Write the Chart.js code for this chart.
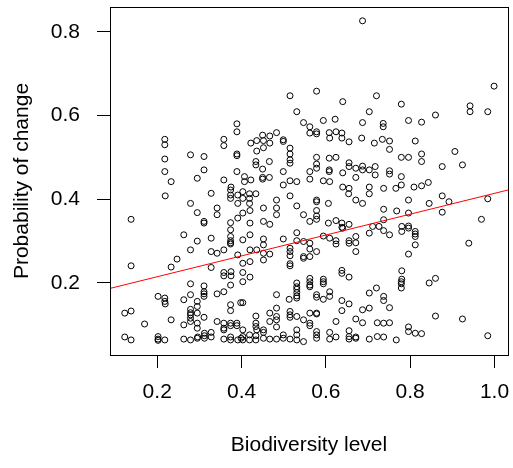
<!DOCTYPE html>
<html>
<head>
<meta charset="utf-8">
<script src="https://cdn.jsdelivr.net/npm/chart.js@4.4.1/dist/chart.umd.min.js"></script>
<style>
  html, body { margin: 0; padding: 0; background: #fff; }
  #wrap { width: 513px; height: 468px; }
</style>
</head>
<body>
<div id="wrap"><canvas id="scatterChart"></canvas></div>
<script>
// Biodiversity level (x) and probability of change (y)
const bioLevel = [
  0.687, 0.515, 0.578, 0.640, 0.720, 0.999,
  0.389, 0.389, 0.218, 0.218, 0.358, 0.358, 0.218, 0.279, 0.311, 0.389, 0.389, 0.218, 0.233, 0.311, 0.295, 0.389, 0.358, 0.375,
  0.531, 0.703, 0.547, 0.562, 0.594, 0.622, 0.687, 0.578, 0.578, 0.562, 0.608, 0.609, 0.624, 0.638, 0.638, 0.655, 0.685, 0.715,
  0.422, 0.436, 0.450, 0.452, 0.467, 0.483, 0.436, 0.452, 0.467, 0.499, 0.499, 0.515, 0.515, 0.515, 0.515, 0.434, 0.434, 0.466,
  0.450, 0.499, 0.450, 0.450, 0.466, 0.407, 0.422, 0.407, 0.499, 0.515, 0.531, 0.562, 0.562, 0.578, 0.578, 0.578, 0.608, 0.624,
  0.608, 0.608, 0.594, 0.609, 0.640, 0.655, 0.655, 0.671, 0.687, 0.687, 0.671, 0.703, 0.717, 0.717, 0.640, 0.655, 0.703,
  0.779, 0.942, 0.942, 0.984, 0.860, 0.796, 0.827, 0.736, 0.736, 0.734, 0.751, 0.751, 0.812, 0.779, 0.796, 0.827, 0.827, 0.906,
  0.876, 0.924, 0.751, 0.751, 0.779, 0.779, 0.766, 0.809, 0.827, 0.843, 0.737,
  0.219, 0.328, 0.374, 0.374, 0.391, 0.374, 0.391, 0.279, 0.295, 0.342, 0.342, 0.138, 0.311, 0.311, 0.374, 0.391, 0.374, 0.263,
  0.295, 0.328, 0.374, 0.374, 0.374, 0.374, 0.279, 0.328, 0.342, 0.358, 0.391, 0.138, 0.247, 0.233, 0.328, 0.358, 0.358, 0.375, 0.375,
  0.403, 0.419, 0.434, 0.419, 0.403, 0.419, 0.515, 0.578, 0.578, 0.483, 0.452, 0.420, 0.403, 0.483, 0.483, 0.531, 0.547, 0.578,
  0.578, 0.606, 0.654, 0.671, 0.687, 0.703, 0.420, 0.452, 0.467, 0.562, 0.578, 0.606, 0.624, 0.638, 0.638, 0.640, 0.655, 0.420,
  0.403, 0.452, 0.452, 0.499, 0.531, 0.531, 0.547, 0.562, 0.594, 0.609, 0.624, 0.624, 0.655, 0.655, 0.671, 0.671, 0.671, 0.703,
  0.711, 0.420, 0.436, 0.452, 0.452, 0.467, 0.403, 0.420, 0.515, 0.515, 0.515, 0.562, 0.578, 0.562, 0.547, 0.547, 0.515, 0.515,
  0.403, 0.420, 0.638, 0.638, 0.655, 0.562, 0.594,
  0.876, 0.892, 0.796, 0.845, 0.984, 0.737, 0.768, 0.796, 0.876, 0.737, 0.969, 0.726, 0.737, 0.751, 0.780, 0.780, 0.796, 0.796,
  0.812, 0.812, 0.812, 0.812, 0.939, 0.796, 0.780, 0.780, 0.860,
  0.279, 0.311, 0.311, 0.311, 0.311, 0.374, 0.342, 0.358, 0.202, 0.218, 0.218, 0.219, 0.263, 0.279, 0.295, 0.295, 0.123, 0.138,
  0.279, 0.279, 0.279, 0.279, 0.295, 0.311, 0.374, 0.374, 0.398, 0.170, 0.233, 0.263, 0.279, 0.295, 0.295, 0.342, 0.358, 0.358,
  0.358, 0.374, 0.374, 0.389, 0.389, 0.312, 0.312, 0.328, 0.296, 0.123, 0.138, 0.202, 0.202, 0.202, 0.218, 0.263, 0.279, 0.295,
  0.312, 0.328, 0.358, 0.374, 0.374, 0.391, 0.399,
  0.403, 0.531, 0.531, 0.531, 0.531, 0.531, 0.531, 0.562, 0.562, 0.562, 0.594, 0.594, 0.483, 0.403, 0.513, 0.578, 0.578, 0.594,
  0.609, 0.609, 0.638, 0.655, 0.638, 0.703, 0.687, 0.703, 0.483, 0.467, 0.483, 0.483, 0.467, 0.434, 0.515, 0.515, 0.515, 0.531,
  0.547, 0.562, 0.578, 0.578, 0.562, 0.562, 0.624, 0.671, 0.687, 0.434, 0.434, 0.436, 0.452, 0.452, 0.483, 0.403, 0.403, 0.403,
  0.419, 0.419, 0.434, 0.434, 0.452, 0.467, 0.483, 0.499, 0.499, 0.515, 0.531, 0.531, 0.531, 0.547, 0.578, 0.578, 0.578, 0.609,
  0.609, 0.624, 0.655, 0.655, 0.655, 0.671, 0.671, 0.703,
  0.779, 0.779, 0.779, 0.845, 0.720, 0.737, 0.737, 0.751, 0.860, 0.924, 0.722, 0.737, 0.751, 0.796, 0.796, 0.812, 0.827, 0.722,
  0.737, 0.767, 0.984
];
const probChange = [
  0.826, 0.647, 0.658, 0.633, 0.647, 0.670,
  0.580, 0.561, 0.543, 0.530, 0.543, 0.528, 0.496, 0.506, 0.502, 0.508, 0.504, 0.466, 0.442, 0.470, 0.450, 0.466, 0.446, 0.429,
  0.609, 0.609, 0.583, 0.573, 0.588, 0.591, 0.583, 0.561, 0.556, 0.558, 0.559, 0.546, 0.561, 0.558, 0.546, 0.537, 0.546, 0.534,
  0.534, 0.540, 0.553, 0.540, 0.551, 0.559, 0.515, 0.523, 0.534, 0.542, 0.538, 0.522, 0.508, 0.494, 0.486, 0.490, 0.482, 0.490,
  0.472, 0.466, 0.448, 0.452, 0.452, 0.454, 0.446, 0.442, 0.434, 0.444, 0.442, 0.466, 0.448, 0.500, 0.484, 0.474, 0.498, 0.500,
  0.470, 0.466, 0.444, 0.442, 0.463, 0.487, 0.478, 0.474, 0.479, 0.470, 0.452, 0.470, 0.478, 0.458, 0.429, 0.426, 0.429,
  0.627, 0.623, 0.609, 0.609, 0.601, 0.588, 0.584, 0.581, 0.573, 0.543, 0.539, 0.519, 0.539, 0.500, 0.500, 0.508, 0.490, 0.514,
  0.478, 0.482, 0.468, 0.460, 0.454, 0.434, 0.426, 0.429, 0.432, 0.440, 0.426,
  0.408, 0.414, 0.422, 0.410, 0.410, 0.402, 0.390, 0.390, 0.368, 0.379, 0.363, 0.352, 0.347, 0.343, 0.344, 0.355, 0.327, 0.315,
  0.300, 0.307, 0.311, 0.301, 0.296, 0.293, 0.279, 0.275, 0.271, 0.279, 0.267, 0.241, 0.257, 0.238, 0.237, 0.225, 0.217, 0.227, 0.217,
  0.418, 0.413, 0.413, 0.402, 0.402, 0.390, 0.408, 0.398, 0.394, 0.398, 0.379, 0.373, 0.367, 0.379, 0.363, 0.384, 0.363, 0.373,
  0.360, 0.390, 0.413, 0.398, 0.390, 0.413, 0.343, 0.347, 0.340, 0.347, 0.352, 0.343, 0.349, 0.343, 0.333, 0.331, 0.340, 0.315,
  0.303, 0.305, 0.291, 0.305, 0.320, 0.301, 0.299, 0.295, 0.312, 0.307, 0.301, 0.293, 0.301, 0.295, 0.311, 0.296, 0.275, 0.319,
  0.335, 0.279, 0.279, 0.271, 0.255, 0.269, 0.247, 0.251, 0.283, 0.275, 0.265, 0.281, 0.275, 0.263, 0.263, 0.259, 0.246, 0.241,
  0.225, 0.214, 0.230, 0.223, 0.214, 0.211, 0.209,
  0.408, 0.394, 0.398, 0.390, 0.401, 0.376, 0.372, 0.367, 0.369, 0.351, 0.352, 0.335, 0.325, 0.315, 0.335, 0.323, 0.336, 0.331,
  0.323, 0.317, 0.311, 0.291, 0.295, 0.269, 0.229, 0.209, 0.211,
  0.198, 0.193, 0.179, 0.174, 0.168, 0.195, 0.174, 0.179, 0.168, 0.164, 0.156, 0.150, 0.160, 0.172, 0.156, 0.144, 0.128, 0.133,
  0.137, 0.129, 0.124, 0.116, 0.128, 0.118, 0.148, 0.134, 0.153, 0.102, 0.112, 0.100, 0.108, 0.104, 0.092, 0.108, 0.104, 0.092,
  0.088, 0.104, 0.098, 0.104, 0.098, 0.080, 0.074, 0.082, 0.071, 0.071, 0.064, 0.072, 0.066, 0.063, 0.064, 0.066, 0.064, 0.068,
  0.068, 0.071, 0.066, 0.071, 0.064, 0.064, 0.068,
  0.203, 0.200, 0.191, 0.185, 0.177, 0.169, 0.164, 0.203, 0.195, 0.191, 0.203, 0.198, 0.172, 0.153, 0.161, 0.172, 0.166, 0.161,
  0.179, 0.168, 0.158, 0.150, 0.134, 0.176, 0.136, 0.140, 0.140, 0.128, 0.120, 0.112, 0.108, 0.121, 0.132, 0.124, 0.118, 0.120,
  0.112, 0.128, 0.128, 0.126, 0.104, 0.098, 0.108, 0.114, 0.105, 0.104, 0.096, 0.088, 0.088, 0.082, 0.095, 0.088, 0.072, 0.064,
  0.076, 0.064, 0.074, 0.064, 0.068, 0.066, 0.066, 0.076, 0.068, 0.066, 0.088, 0.076, 0.064, 0.060, 0.084, 0.076, 0.068, 0.082,
  0.066, 0.071, 0.086, 0.072, 0.066, 0.071, 0.068, 0.066,
  0.203, 0.198, 0.188, 0.200, 0.188, 0.168, 0.158, 0.141, 0.121, 0.114, 0.105, 0.104, 0.105, 0.095, 0.084, 0.080, 0.079, 0.072,
  0.071, 0.064, 0.074
];

// fitted line, end values read at the edges of the plot box
const fitX = [0.088, 1.032];
const fitY = [0.187, 0.422];

const xTicks = [0.2, 0.4, 0.6, 0.8, 1.0];
const yTicks = [0.2, 0.4, 0.6, 0.8];

const points = bioLevel.map((x, i) => ({ x: x, y: probChange[i] }));
const fitLine = fitX.map((x, i) => ({ x: x, y: fitY[i] }));

const font = { family: 'Liberation Sans, Arial, sans-serif', size: 21 };

// R style box around the plotting region
const boxPlugin = {
  id: 'plotBox',
  afterDraw(chart) {
    const a = chart.chartArea;
    const ctx = chart.ctx;
    ctx.save();
    ctx.strokeStyle = '#000';
    ctx.lineWidth = 1;
    ctx.strokeRect(Math.round(a.left) + 0.5, Math.round(a.top) + 0.5,
      Math.round(a.right - a.left), Math.round(a.bottom - a.top));
    ctx.restore();
  }
};

// keep the plot region fixed: no extra room for the end labels
function noPad(s) {
  s.paddingTop = 0;
  s.paddingBottom = 0;
  s.paddingLeft = 0;
  s.paddingRight = 0;
}

new Chart(document.getElementById('scatterChart'), {
  type: 'scatter',
  data: {
    datasets: [
      {
        type: 'line',
        data: fitLine,
        borderColor: '#ff0000',
        borderWidth: 1,
        pointRadius: 0,
        order: 0
      },
      {
        data: points,
        pointStyle: 'circle',
        pointRadius: 3,
        borderColor: '#000',
        backgroundColor: 'rgba(0,0,0,0)',
        borderWidth: 1,
        order: 1
      }
    ]
  },
  options: {
    responsive: true,
    maintainAspectRatio: false,
    animation: false,
    layout: { padding: { top: 7, right: 4, left: 0, bottom: 0 } },
    plugins: {
      legend: { display: false },
      tooltip: { enabled: false }
    },
    scales: {
      x: {
        type: 'linear',
        min: 0.088,
        max: 1.032,
        afterBuildTicks: s => { s.ticks = xTicks.map(v => ({ value: v })); },
        afterFit: s => { s.height = 113; noPad(s); },
        ticks: { callback: v => v.toFixed(1), font: font, color: '#000', padding: 12, maxRotation: 0 },
        grid: { drawOnChartArea: false, drawTicks: true, tickLength: 13, color: '#000', lineWidth: 1 },
        border: { display: false },
        title: { display: true, text: 'Biodiversity level', font: font, color: '#000', padding: { top: 0, bottom: 10 } }
      },
      y: {
        type: 'linear',
        min: 0.028,
        max: 0.859,
        afterBuildTicks: s => { s.ticks = yTicks.map(v => ({ value: v })); },
        afterFit: s => { s.width = 110; noPad(s); },
        ticks: { callback: v => v.toFixed(1), font: font, color: '#000', padding: 17 },
        grid: { drawOnChartArea: false, drawTicks: true, tickLength: 13, color: '#000', lineWidth: 1 },
        border: { display: false },
        title: { display: true, text: 'Probability of change', font: font, color: '#000', padding: { top: 10, bottom: 0 } }
      }
    }
  },
  plugins: [boxPlugin]
});
</script>
</body>
</html>
